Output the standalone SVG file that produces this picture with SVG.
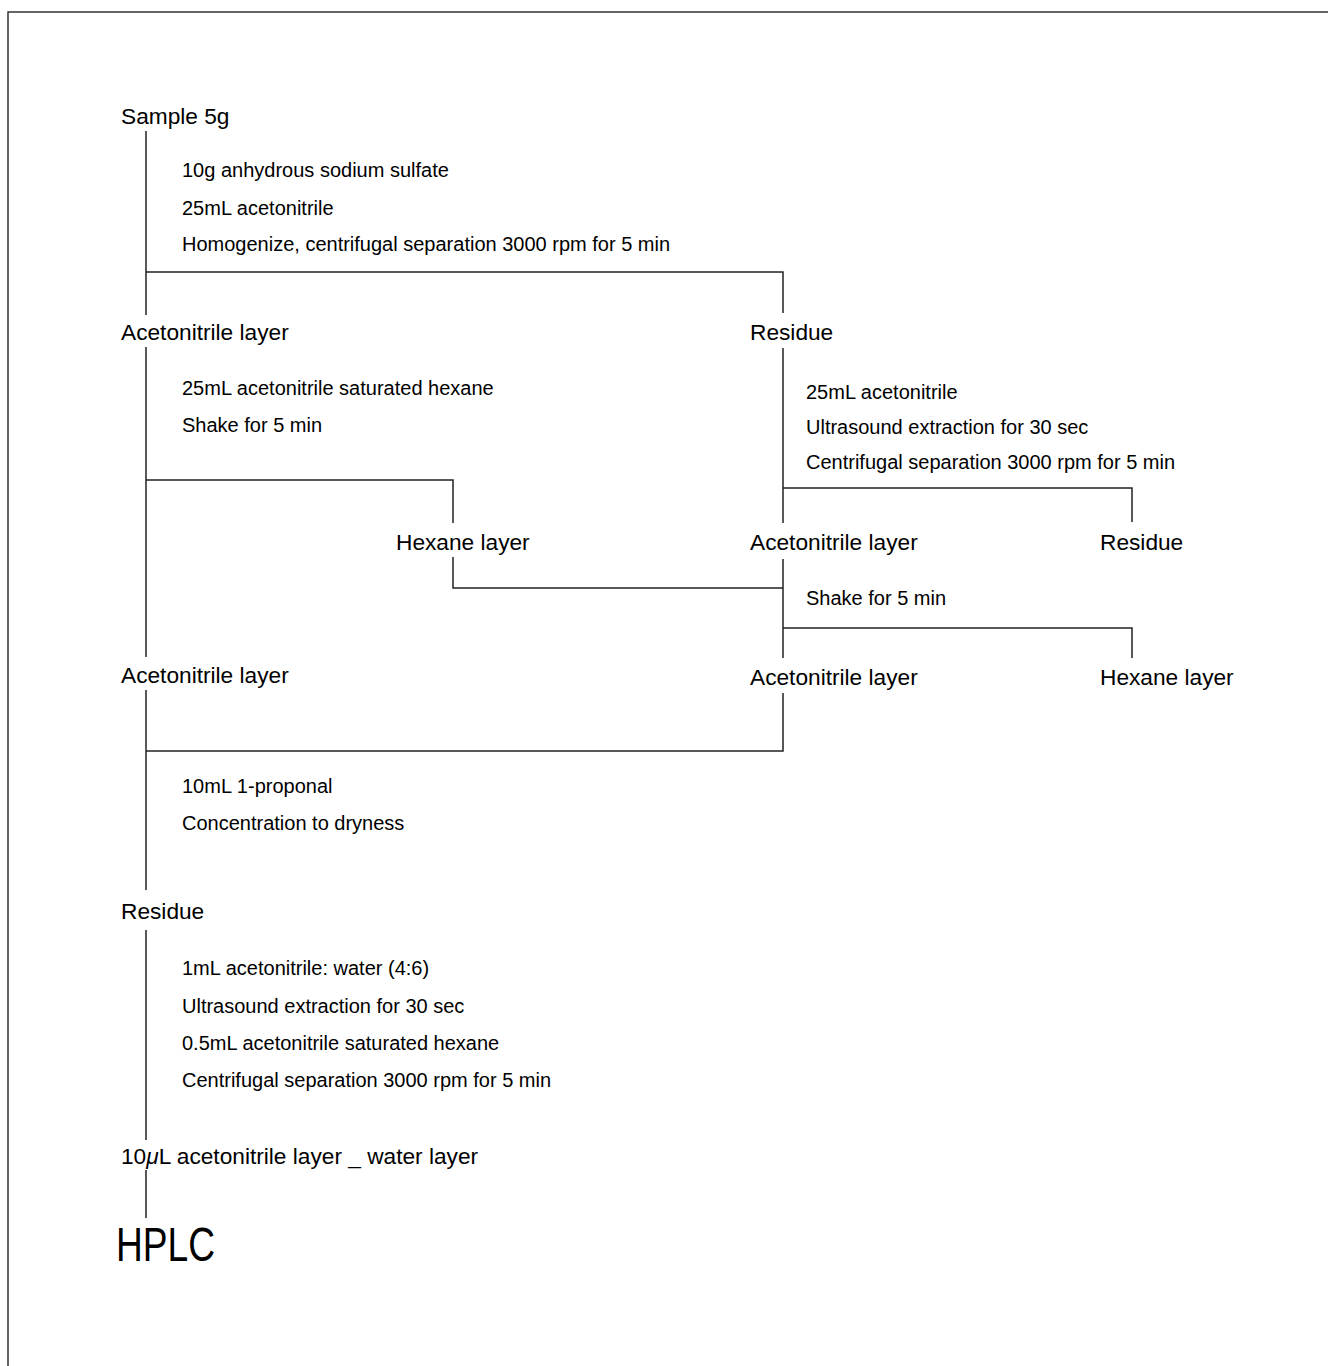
<svg xmlns="http://www.w3.org/2000/svg" width="1328" height="1366" viewBox="0 0 1328 1366">
<style>
text{font-family:"Liberation Sans",Arial,sans-serif;fill:#000}
.lbl{font-size:22.7px}
.step{font-size:20px}
.big{font-size:48px}
.con path{fill:none;stroke:#222;stroke-width:1.5}
.frame{fill:none;stroke:#333;stroke-width:1.5}
</style>
<rect width="1328" height="1366" fill="#fff"/>
<path class="frame" d="M8,1366 V12 H1328"/>
<g id="connectors" class="con">
<path d="M146,131 V315"/>
<path d="M146,272 H783 V313"/>
<path d="M146,347 V657"/>
<path d="M146,480 H453 V523"/>
<path d="M453,557 V588 H783"/>
<path d="M783,348 V523"/>
<path d="M783,488 H1132 V522"/>
<path d="M783,559 V658"/>
<path d="M783,628 H1132 V658"/>
<path d="M783,693 V751 H146"/>
<path d="M146,690 V890"/>
<path d="M146,930 V1140"/>
<path d="M146,1170 V1218"/>
</g>
<g id="n-sample"><text class="lbl" x="121" y="124">Sample 5g</text></g>
<g id="s-1">
<text class="step" x="182" y="177">10g anhydrous sodium sulfate</text>
<text class="step" x="182" y="215">25mL acetonitrile</text>
<text class="step" x="182" y="251">Homogenize, centrifugal separation 3000 rpm for 5 min</text>
</g>
<g id="n-acn1"><text class="lbl" x="121" y="340">Acetonitrile layer</text></g>
<g id="n-res1"><text class="lbl" x="750" y="340">Residue</text></g>
<g id="s-2">
<text class="step" x="182" y="395">25mL acetonitrile saturated hexane</text>
<text class="step" x="182" y="432">Shake for 5 min</text>
</g>
<g id="s-3">
<text class="step" x="806" y="399">25mL acetonitrile</text>
<text class="step" x="806" y="434">Ultrasound extraction for 30 sec</text>
<text class="step" x="806" y="469">Centrifugal separation 3000 rpm for 5 min</text>
</g>
<g id="n-hex1"><text class="lbl" x="396" y="550">Hexane layer</text></g>
<g id="n-acn2"><text class="lbl" x="750" y="550">Acetonitrile layer</text></g>
<g id="n-res2"><text class="lbl" x="1100" y="550">Residue</text></g>
<g id="s-4"><text class="step" x="806" y="605">Shake for 5 min</text></g>
<g id="n-acn3"><text class="lbl" x="121" y="683">Acetonitrile layer</text></g>
<g id="n-acn4"><text class="lbl" x="750" y="685">Acetonitrile layer</text></g>
<g id="n-hex2"><text class="lbl" x="1100" y="685">Hexane layer</text></g>
<g id="s-5">
<text class="step" x="182" y="793">10mL 1-proponal</text>
<text class="step" x="182" y="830">Concentration to dryness</text>
</g>
<g id="n-res3"><text class="lbl" x="121" y="919">Residue</text></g>
<g id="s-6">
<text class="step" x="182" y="975">1mL acetonitrile: water (4:6)</text>
<text class="step" x="182" y="1013">Ultrasound extraction for 30 sec</text>
<text class="step" x="182" y="1050">0.5mL acetonitrile saturated hexane</text>
<text class="step" x="182" y="1087">Centrifugal separation 3000 rpm for 5 min</text>
</g>
<g id="n-final"><text class="lbl" x="121" y="1164">10<tspan font-style="italic">μ</tspan>L acetonitrile layer _ water layer</text></g>
<g id="n-hplc"><text class="big" x="116" y="1261" textLength="99" lengthAdjust="spacingAndGlyphs">HPLC</text></g>
</svg>
